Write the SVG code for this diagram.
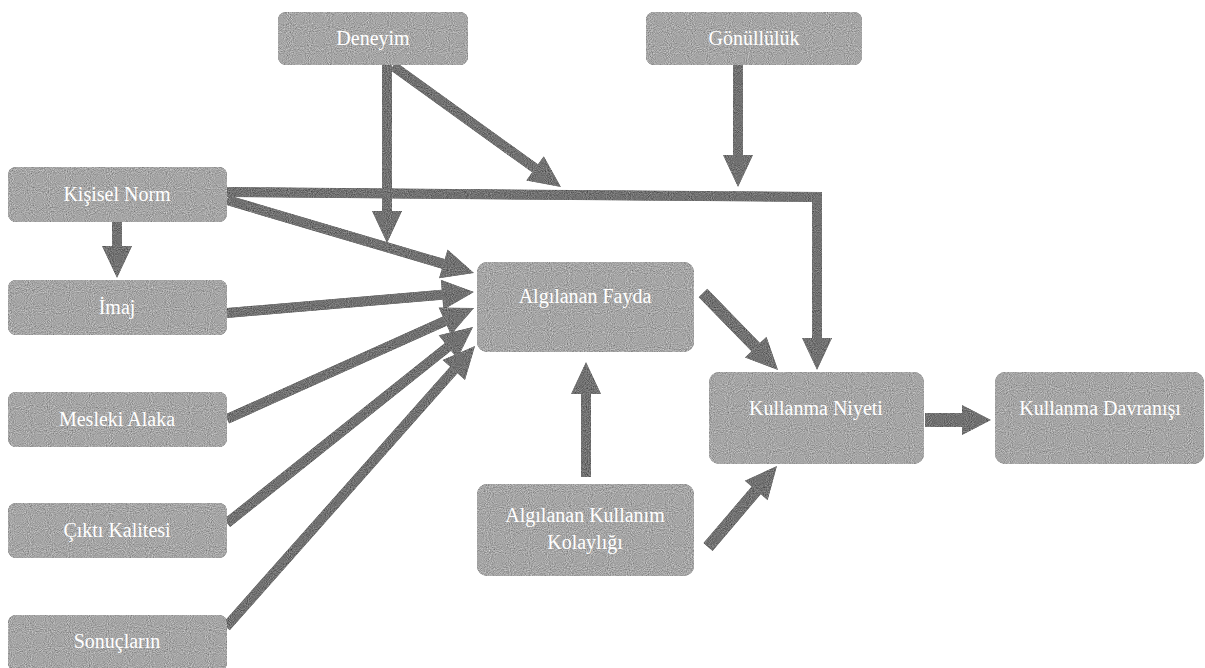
<svg xmlns="http://www.w3.org/2000/svg" width="1205" height="668" viewBox="0 0 1205 668">
<style>
  .box { fill: #a6a6a6; }
  .lbl { font-family: "Liberation Serif", "Times New Roman", serif; font-size: 20px; fill: #ffffff; text-anchor: middle; }
  .arr { fill: none; stroke: #727272; stroke-width: 10; stroke-linejoin: miter; stroke-linecap: butt; }
</style>
<defs>
  <filter id="grain" x="0" y="0" width="1205" height="668" filterUnits="userSpaceOnUse" color-interpolation-filters="sRGB">
    <feTurbulence type="fractalNoise" baseFrequency="0.95" numOctaves="1" seed="7" result="n"/>
    <feColorMatrix in="n" type="matrix" values="0.33 0.33 0.33 0 0  0.33 0.33 0.33 0 0  0.33 0.33 0.33 0 0  0 0 0 0 1" result="g"/>
    <feComposite in="SourceGraphic" in2="g" operator="arithmetic" k1="0" k2="1" k3="0.9" k4="-0.45" result="mix"/>
    <feComposite in="mix" in2="SourceAlpha" operator="in"/>
  </filter>
  <marker id="head" markerUnits="userSpaceOnUse" markerWidth="40" markerHeight="40" refX="0" refY="0" orient="auto" overflow="visible">
    <path d="M0,-15 L32,0 L0,15 Z" fill="#727272"/>
  </marker>
  <marker id="headS" markerUnits="userSpaceOnUse" markerWidth="40" markerHeight="40" refX="0" refY="0" orient="auto" overflow="visible">
    <path d="M0,-15 L29,0 L0,15 Z" fill="#727272"/>
  </marker>
</defs>
<rect width="1205" height="668" fill="#ffffff"/>

<g id="connectors" filter="url(#grain)">
  <path class="arr" d="M387,65 L387,211" marker-end="url(#head)"/>
  <path class="arr" d="M393,66 L535,168.3" marker-end="url(#head)"/>
  <path class="arr" d="M738,65 L738,155" marker-end="url(#head)"/>
  <path class="arr" d="M227,192 L817,197 L817,338" marker-end="url(#head)"/>
  <path class="arr" d="M117,222 L117,246" marker-end="url(#head)"/>
  <path class="arr" d="M227,200 L443.3,263.9" marker-end="url(#head)"/>
  <path class="arr" d="M227,313 L442.1,294.7" marker-end="url(#head)"/>
  <path class="arr" d="M227,419 L444.8,321.1" marker-end="url(#head)"/>
  <path class="arr" d="M227,523 L448,346.9" marker-end="url(#head)"/>
  <path class="arr" d="M226,627 L453.8,370" marker-end="url(#head)"/>
  <path class="arr" style="stroke-width:12" d="M703,293 L755.7,347.1" marker-end="url(#head)"/>
  <path class="arr" d="M586,477 L586,394" marker-end="url(#head)"/>
  <path class="arr" style="stroke-width:12" d="M708,547 L756.2,490.4" marker-end="url(#head)"/>
  <path class="arr" style="stroke-width:14" d="M925,420 L962,420" marker-end="url(#headS)"/>
</g>

<g id="n-deneyim">
  <rect class="box" x="278" y="12" width="190" height="53" rx="8" filter="url(#grain)"/>
  <text class="lbl" x="373" y="45">Deneyim</text>
</g>
<g id="n-gonulluluk">
  <rect class="box" x="646" y="12" width="216" height="53" rx="8" filter="url(#grain)"/>
  <text class="lbl" x="754" y="45">Gönüllülük</text>
</g>
<g id="n-kisisel-norm">
  <rect class="box" x="8" y="167" width="219" height="55" rx="8" filter="url(#grain)"/>
  <text class="lbl" x="117" y="201">Kişisel Norm</text>
</g>
<g id="n-imaj">
  <rect class="box" x="8" y="280" width="219" height="55" rx="8" filter="url(#grain)"/>
  <text class="lbl" x="117" y="314">İmaj</text>
</g>
<g id="n-mesleki-alaka">
  <rect class="box" x="8" y="392" width="219" height="55" rx="8" filter="url(#grain)"/>
  <text class="lbl" x="117" y="426">Mesleki Alaka</text>
</g>
<g id="n-cikti-kalitesi">
  <rect class="box" x="8" y="503" width="219" height="55" rx="8" filter="url(#grain)"/>
  <text class="lbl" x="117" y="537">Çıktı Kalitesi</text>
</g>
<g id="n-sonuclarin">
  <rect class="box" x="8" y="615" width="219" height="56" rx="8" filter="url(#grain)"/>
  <text class="lbl" x="117" y="648">Sonuçların</text>
</g>
<g id="n-algilanan-fayda">
  <rect class="box" x="477" y="262" width="217" height="90" rx="10" filter="url(#grain)"/>
  <text class="lbl" x="585" y="303">Algılanan Fayda</text>
</g>
<g id="n-kullanma-niyeti">
  <rect class="box" x="709" y="372" width="215" height="92" rx="10" filter="url(#grain)"/>
  <text class="lbl" x="816" y="415">Kullanma Niyeti</text>
</g>
<g id="n-kullanma-davranisi">
  <rect class="box" x="995" y="372" width="209" height="92" rx="10" filter="url(#grain)"/>
  <text class="lbl" x="1100" y="415">Kullanma Davranışı</text>
</g>
<g id="n-kullanim-kolayligi">
  <rect class="box" x="477" y="484" width="217" height="92" rx="10" filter="url(#grain)"/>
  <text class="lbl" x="585" y="522">Algılanan Kullanım</text>
  <text class="lbl" x="585" y="549">Kolaylığı</text>
</g>
</svg>
